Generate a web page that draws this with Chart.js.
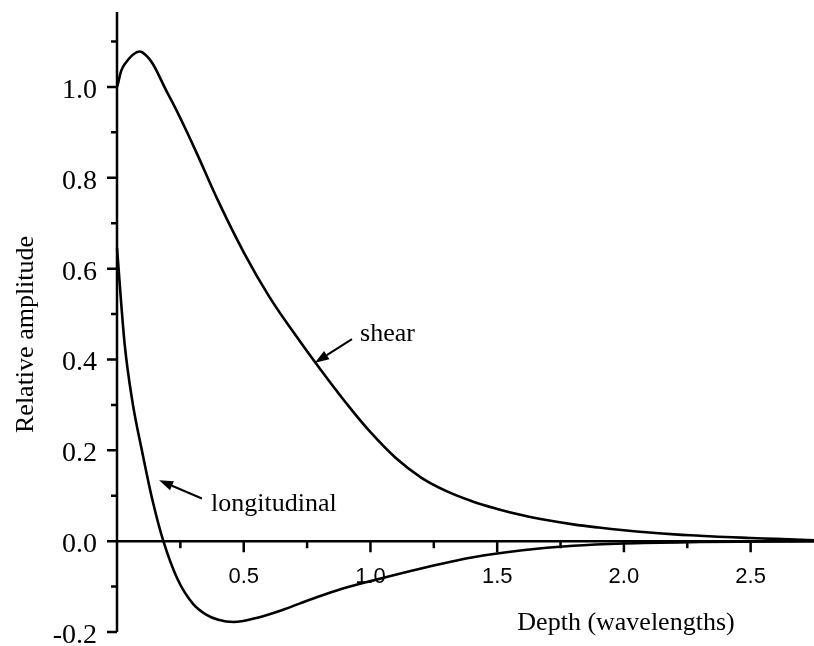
<!DOCTYPE html>
<html>
<head>
<meta charset="utf-8">
<script src="https://cdn.jsdelivr.net/npm/chart.js@4.4.1/dist/chart.umd.min.js"></script>
<style>
  html, body { margin: 0; padding: 0; background: #fff; }
  #wrap { width: 814px; height: 646px; }
</style>
</head>
<body>
<div id="wrap"><canvas id="amp" width="814" height="646"></canvas></div>
<script>
// values
var shearDepth = [0, 0.03, 0.1, 0.2, 0.3, 0.4, 0.5, 0.6, 0.7, 0.8, 0.9, 1.0, 1.1, 1.2, 1.3, 1.4, 1.5, 1.6, 1.7, 1.8, 1.9, 2.0, 2.1, 2.2, 2.3, 2.4, 2.5, 2.6, 2.75];
var shearAmp   = [1.0, 1.05, 1.076, 0.986, 0.872, 0.748, 0.636, 0.539, 0.457, 0.380, 0.307, 0.240, 0.183, 0.140, 0.110, 0.088, 0.071, 0.057, 0.046, 0.037, 0.030, 0.024, 0.019, 0.015, 0.012, 0.009, 0.007, 0.005, 0.002];

var longDepth = [0, 0.03, 0.06, 0.1, 0.14, 0.183, 0.24, 0.3, 0.35, 0.4, 0.46, 0.55, 0.65, 0.75, 0.87, 1.0, 1.2, 1.4, 1.6, 1.8, 2.0, 2.3, 2.75];
var longAmp   = [0.645, 0.435, 0.31, 0.195, 0.09, 0.0, -0.085, -0.138, -0.161, -0.173, -0.178, -0.169, -0.152, -0.131, -0.108, -0.088, -0.06, -0.036, -0.02, -0.01, -0.005, -0.002, 0.0];

var xTickValues = [0.5, 1.0, 1.5, 2.0, 2.5];
var xTickLabels = ['0.5', '1.0', '1.5', '2.0', '2.5'];
var xMinorTicks = [0.25, 0.75, 1.25, 1.75, 2.25];

var yTickValues = [-0.2, 0.0, 0.2, 0.4, 0.6, 0.8, 1.0];
var yTickLabels = ['-0.2', '0.0', '0.2', '0.4', '0.6', '0.8', '1.0'];
var yMinorTicks = [-0.1, 0.1, 0.3, 0.5, 0.7, 0.9, 1.1];

function toPoints(xs, ys) {
    return xs.map(function (x, i) { return { x: x, y: ys[i] }; });
}

var SERIF = "'Liberation Serif', 'Times New Roman', serif";
var SANS = "'Liberation Sans', Arial, sans-serif";

// axes, ticks, labels and arrows drawn on top of the library's scales
var axesPlugin = {
    id: 'axesPlugin',
    afterDatasetsDraw: function (chart) {
        var ctx = chart.ctx;
        var xs = chart.scales.x, ys = chart.scales.y;
        var x0 = xs.getPixelForValue(0), y0 = ys.getPixelForValue(0);
        ctx.save();
        ctx.strokeStyle = '#000';
        ctx.fillStyle = '#000';
        ctx.lineWidth = 2.5;
        ctx.lineCap = 'butt';

        // y axis
        ctx.beginPath();
        ctx.moveTo(x0, ys.top);
        ctx.lineTo(x0, ys.bottom);
        // x axis
        ctx.moveTo(x0, y0);
        ctx.lineTo(xs.right, y0);
        ctx.stroke();

        ctx.beginPath();
        yTickValues.forEach(function (v) {
            var p = ys.getPixelForValue(v);
            ctx.moveTo(x0 - 10, p); ctx.lineTo(x0, p);
        });
        yMinorTicks.forEach(function (v) {
            var p = ys.getPixelForValue(v);
            ctx.moveTo(x0 - 6, p); ctx.lineTo(x0, p);
        });
        xTickValues.forEach(function (v) {
            var p = xs.getPixelForValue(v);
            ctx.moveTo(p, y0); ctx.lineTo(p, y0 + 11);
        });
        xMinorTicks.forEach(function (v) {
            var p = xs.getPixelForValue(v);
            ctx.moveTo(p, y0); ctx.lineTo(p, y0 + 7);
        });
        ctx.stroke();

        // tick labels
        ctx.font = '28px ' + SERIF;
        ctx.textAlign = 'right';
        ctx.textBaseline = 'alphabetic';
        yTickValues.forEach(function (v, i) {
            ctx.fillText(yTickLabels[i], 97, ys.getPixelForValue(v) + 11);
        });
        ctx.font = '22px ' + SANS;
        ctx.textAlign = 'center';
        xTickValues.forEach(function (v, i) {
            ctx.fillText(xTickLabels[i], xs.getPixelForValue(v), y0 + 42);
        });

        // axis titles
        ctx.font = '26px ' + SERIF;
        ctx.fillText('Depth (wavelengths)', 626, 630);
        ctx.save();
        ctx.translate(33, 433);
        ctx.rotate(-Math.PI / 2);
        ctx.textAlign = 'left';
        ctx.fillText('Relative amplitude', 0, 0);
        ctx.restore();

        // curve labels
        ctx.textAlign = 'left';
        ctx.fillText('shear', xs.getPixelForValue(0.959), ys.getPixelForValue(0.44));
        ctx.fillText('longitudinal', xs.getPixelForValue(0.371), ys.getPixelForValue(0.066));

        drawArrow(ctx, xs.getPixelForValue(0.927), ys.getPixelForValue(0.445),
                       xs.getPixelForValue(0.781), ys.getPixelForValue(0.393));
        drawArrow(ctx, xs.getPixelForValue(0.335), ys.getPixelForValue(0.094),
                       xs.getPixelForValue(0.166), ys.getPixelForValue(0.134));
        ctx.restore();
    }
};

function drawArrow(ctx, fx, fy, tx, ty) {
    var ang = Math.atan2(ty - fy, tx - fx);
    var len = 14, half = 5;
    var bx = tx - len * Math.cos(ang), by = ty - len * Math.sin(ang);
    ctx.lineWidth = 2;
    ctx.beginPath();
    ctx.moveTo(fx, fy);
    ctx.lineTo(bx, by);
    ctx.stroke();
    ctx.beginPath();
    ctx.moveTo(tx, ty);
    ctx.lineTo(bx + half * Math.sin(ang), by - half * Math.cos(ang));
    ctx.lineTo(bx - half * Math.sin(ang), by + half * Math.cos(ang));
    ctx.closePath();
    ctx.fill();
}

new Chart(document.getElementById('amp').getContext('2d'), {
    type: 'line',
    data: {
        datasets: [
            { label: 'shear', data: toPoints(shearDepth, shearAmp), borderColor: '#000', borderWidth: 2.6,
              pointRadius: 0, tension: 0.4, fill: false, clip: false },
            { label: 'longitudinal', data: toPoints(longDepth, longAmp), borderColor: '#000', borderWidth: 2.6,
              pointRadius: 0, cubicInterpolationMode: 'monotone', fill: false, clip: false }
        ]
    },
    options: {
        responsive: false,
        animation: false,
        layout: { padding: { left: 117, right: 0, top: 12, bottom: 14 } },
        plugins: { legend: { display: false }, tooltip: { enabled: false } },
        scales: {
            x: { type: 'linear', min: 0, max: 2.75, display: false },
            y: { type: 'linear', min: -0.2, max: 1.165, display: false }
        }
    },
    plugins: [axesPlugin]
});
</script>
</body>
</html>
